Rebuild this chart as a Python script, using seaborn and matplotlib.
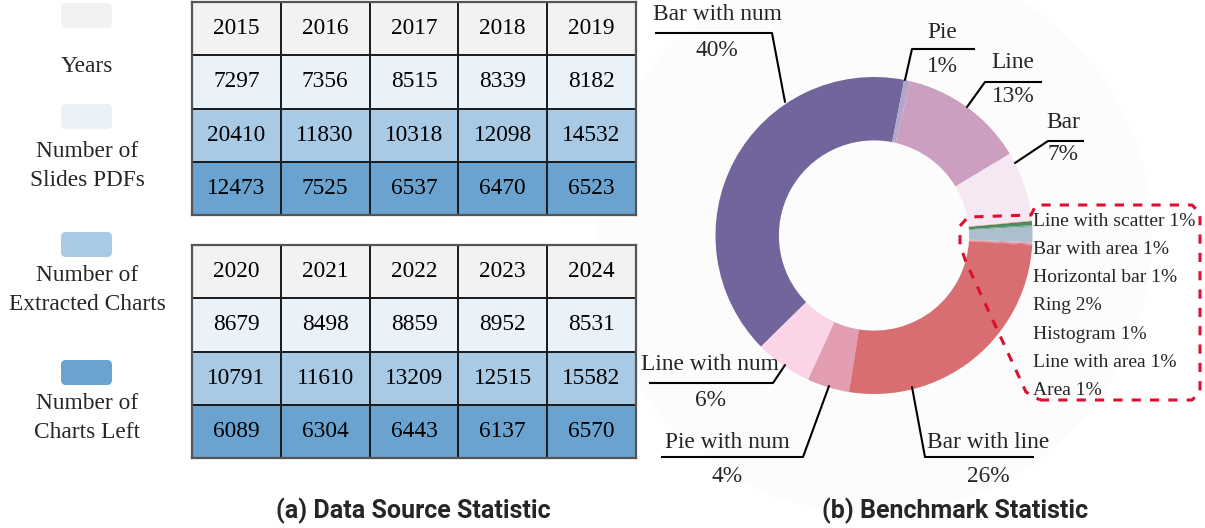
import numpy as np
import matplotlib
matplotlib.use("Agg")
import matplotlib.pyplot as plt
from matplotlib.colors import ListedColormap
from matplotlib.patches import FancyBboxPatch, Circle
import seaborn as sns

# ==========================================
# DATA
# ==========================================
years_a = ['2015', '2016', '2017', '2018', '2019']
slides_a = [7297, 7356, 8515, 8339, 8182]
extracted_a = [20410, 11830, 10318, 12098, 14532]
left_a = [12473, 7525, 6537, 6470, 6523]

years_b = ['2020', '2021', '2022', '2023', '2024']
slides_b = [8679, 8498, 8859, 8952, 8531]
extracted_b = [10791, 11610, 13209, 12515, 15582]
left_b = [6089, 6304, 6443, 6137, 6570]

row_names = ['Years', 'Number of\nSlides PDFs', 'Number of\nExtracted Charts', 'Number of\nCharts Left']
row_colors = ['#f1f2f4', '#e9f1f9', '#a9cae4', '#6aa3cf']

# donut, counter-clockwise from the top
chart_types = ['Bar with num', 'Line with num', 'Pie with num', 'Bar with line',
               'Area', 'Line with area', 'Histogram', 'Ring', 'Horizontal bar',
               'Bar with area', 'Line with scatter', 'Bar', 'Line', 'Pie']
shares = [40.4, 5.8, 4.3, 26.5, 0.08, 0.12, 0.12, 1.6, 0.14, 0.4, 0.08, 7.1, 12.7, 0.6]
pct_labels = ['40%', '6%', '4%', '26%', '1%', '1%', '1%', '2%', '1%', '1%', '1%', '7%', '13%', '1%']
type_colors = ['#71659b', '#fbd4e8', '#e39db1', '#d86e72',
               '#d4474f', '#dc7f95', '#e0a3b3', '#abbfcc', '#7aa58c',
               '#4b8a66', '#d9a874', '#f5e8f3', '#cc9ebf', '#b2a6cc']

SERIF = 'Liberation Serif'
W, H = 1205, 528

sns.set_style('white')
plt.rcParams['font.family'] = [SERIF, 'DejaVu Serif']

fig = plt.figure(figsize=(W / 100, H / 100), dpi=100)


def px_axes(x0, y0, x1, y1, z=1):
    # axes placed by pixel box (top-left origin)
    return fig.add_axes([x0 / W, 1 - y1 / H, (x1 - x0) / W, (y1 - y0) / H], zorder=z)


# faint backdrop behind the donut
bg = px_axes(0, 0, W, H, z=0)
bg.set_xlim(0, W)
bg.set_ylim(H, 0)
bg.axis('off')
bg.add_patch(Circle((874, 236), 278, color='#fcfcfc', lw=0))

# ==========================================
# TABLES (seaborn heatmaps)
# ==========================================
def draw_table(top, years, slides, extracted, left):
    ax = px_axes(192, top, 636, top + 213, z=1)
    codes = np.repeat(np.arange(4)[:, None], len(years), axis=1)
    annot = np.array([years,
                      [str(v) for v in slides],
                      [str(v) for v in extracted],
                      [str(v) for v in left]])
    sns.heatmap(codes, annot=annot, fmt='', cmap=ListedColormap(row_colors),
                vmin=-0.5, vmax=3.5, cbar=False, linewidths=1.2, linecolor='#1e1e1e',
                xticklabels=False, yticklabels=False, ax=ax,
                annot_kws={'fontsize': 16.8, 'color': 'black', 'family': SERIF})
    for sp in ax.spines.values():
        sp.set_visible(True)
        sp.set_color('#555555')
        sp.set_linewidth(1.6)


draw_table(2, years_a, slides_a, extracted_a, left_a)
draw_table(245, years_b, slides_b, extracted_b, left_b)

# ==========================================
# DONUT
# ==========================================
pax = px_axes(874 - 158.5, 235.5 - 158.5, 874 + 158.5, 235.5 + 158.5, z=1)
pax.pie(shares, colors=type_colors, startangle=79, counterclock=True, radius=1,
        wedgeprops={'width': 0.4, 'linewidth': 0})
pax.set_xlim(-1, 1)
pax.set_ylim(-1, 1)
pax.axis('off')

# ==========================================
# OVERLAY: legend, leader lines, labels
# ==========================================
ov = px_axes(0, 0, W, H, z=3)
ov.set_xlim(0, W)
ov.set_ylim(H, 0)
ov.axis('off')
ov.patch.set_alpha(0)

# row legend on the left
swatch_y = [2, 103, 231, 359]
name_y = [66, 166, 290, 418]
for c, sy, name, ny in zip(row_colors, swatch_y, row_names, name_y):
    ov.add_patch(FancyBboxPatch((61, sy + 1), 51, 25, boxstyle='round,pad=0,rounding_size=5',
                                fc=c, ec='none'))
    ov.text(87, ny, name, ha='center', va='center', fontsize=16.8, linespacing=1.45)

# callouts: (text x, name y, underline x0, x1, y, leader start x, leader end, pct y)
callouts = {
    'Bar with num': (717, 15, 655, 772, 33, 772, (785, 102), 50),
    'Pie': (942, 32, 912, 975, 49, 912, (905, 80), 66),
    'Line': (1013, 63, 985, 1042, 82, 985, (967, 107), 97),
    'Bar': (1063, 122, 1048, 1084, 141, 1048, (1015, 163), 155),
    'Line with num': (710, 365, 649, 773, 383, 773, (785, 365), 400),
    'Pie with num': (727, 442, 661, 803, 457, 803, (829, 386), 477),
    'Bar with line': (988, 442, 925, 1034, 457, 925, (912, 387), 477),
}
for name, (tx, ty, ux0, ux1, uy, lx, lend, py) in callouts.items():
    ov.text(tx, ty, name, ha='center', va='center', fontsize=16.8)
    ov.text(tx, py, pct_labels[chart_types.index(name)], ha='center', va='center', fontsize=16.8)
    ov.plot([ux0, ux1], [uy, uy], color='black', lw=1.5, solid_capstyle='butt')
    ov.plot([lx, lend[0]], [uy, lend[1]], color='black', lw=1.5)

# small categories listed in the dashed box
small_types = ['Line with scatter', 'Bar with area', 'Horizontal bar', 'Ring',
               'Histogram', 'Line with area', 'Area']
for i, name in enumerate(small_types):
    ov.text(1033, 221 + i * 28.3, f"{name} {pct_labels[chart_types.index(name)]}",
            ha='left', va='center', fontsize=14)

box_x = [1040, 1192, 1200, 1200, 1192, 1036, 1031, 968, 960, 960, 966, 1026, 1040]
box_y = [400, 400, 392, 213, 205, 205, 215, 217, 226, 245, 262, 392, 400]
ov.plot(box_x, box_y, color='#dd0f2e', lw=2.2, ls=(0, (3, 3)))

# panel titles
ov.text(413, 511, '(a) Data Source Statistic', ha='center', va='center',
        fontsize=18, fontweight='bold', family='Roboto')
ov.text(955, 511, '(b) Benchmark Statistic', ha='center', va='center',
        fontsize=18, fontweight='bold', family='Roboto')

fig.savefig('out.png', dpi=100, facecolor='white')
